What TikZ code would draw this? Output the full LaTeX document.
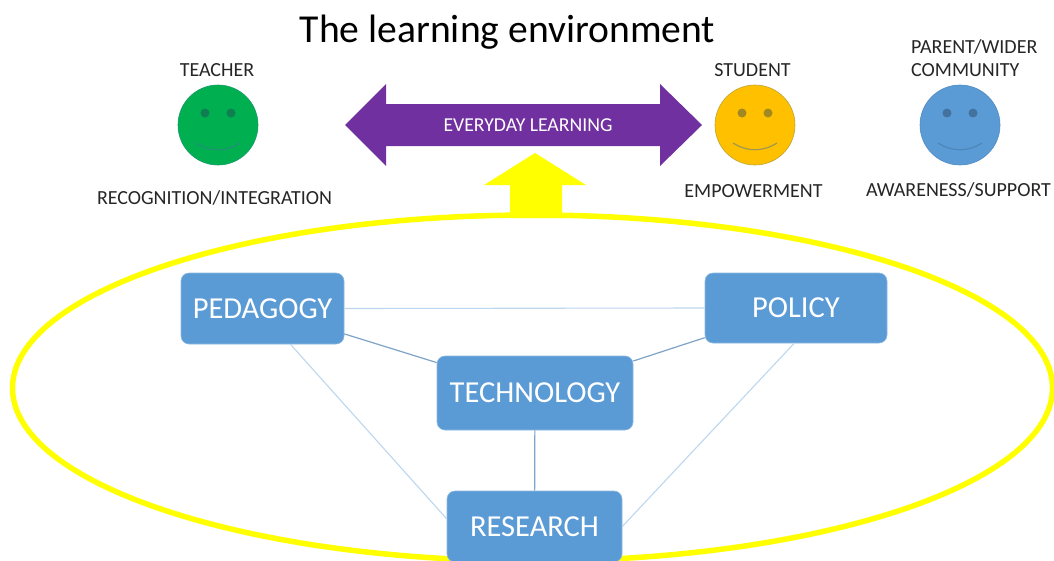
\documentclass[tikz,border=0pt]{standalone}
\usepackage{fontspec}
\setmainfont{Carlito}
\definecolor{boxblue}{HTML}{5B9BD5}
\definecolor{lightlink}{HTML}{BDD7EE}
\definecolor{midlink}{HTML}{7FA3C7}
\definecolor{smgreen}{HTML}{00B050}
\definecolor{smgold}{HTML}{FFC000}
\definecolor{evpurple}{HTML}{7030A0}
\definecolor{ringyellow}{HTML}{FFFF00}
\definecolor{labelink}{HTML}{262626}
\definecolor{smoutline}{HTML}{41719C}
\tikzset{
  x=1pt,y=-1pt,
  topic/.style={fill=boxblue,draw=boxblue!70!white,line width=.6pt,rounded corners=8pt,text=white,font=\fontsize{30.5}{30.5}\selectfont,inner sep=0pt,anchor=center},
  cap label/.style={text=labelink,font=\fontsize{20}{23}\selectfont,inner sep=0pt},
  light link/.style={lightlink,line width=1.1pt},
  mid link/.style={midlink,line width=1.2pt},
  pics/smiley/.style={code={
    \node[circle,minimum size=80pt,inner sep=0pt,fill=#1,draw=#1!65!smoutline,line width=.6pt] (-face) at (0,0) {};
    \fill[#1!72!smoutline!80!black] (-13,-12) circle[radius=4.5];
    \fill[#1!72!smoutline!80!black] (13,-12) circle[radius=4.5];
    \draw[#1!50!smoutline,line width=1.2pt] (-22,18) .. controls (-8,27) and (8,27) .. (22,18);
  }},
}
\begin{document}
\begin{tikzpicture}
\useasboundingbox (0,0) rectangle (1054,560);
\clip (0,0) rectangle (1054,560);
\fill[white] (0,0) rectangle (1054,560);
\node[font=\fontsize{39.6}{39.6}\selectfont,text=black,inner sep=0pt] (title) at (507.5,32) {The learning environment};
% yellow arrow and ring
\fill[ringyellow] (535,153) -- (586,185) -- (562,185) -- (562,218) -- (510,218) -- (510,185) -- (484,185) -- cycle;
\draw[ringyellow,line width=5.5pt] (532.5,388) ellipse[x radius=520,y radius=173];
% purple arrow
\fill[evpurple] (345,125) -- (386,84) -- (386,104) -- (660,104) -- (660,84) -- (702,125) -- (660,166) -- (660,146) -- (386,146) -- (386,166) -- cycle;
\node[text=white,font=\fontsize{19.7}{19.7}\selectfont,inner sep=0pt] (everyday) at (528,125) {EVERYDAY LEARNING};
% smileys
\pic (teacher) at (218,125) {smiley=smgreen};
\pic (student) at (755,125) {smiley=smgold};
\pic (parent) at (960,125) {smiley=boxblue};
\node[cap label] (teacherlab) at (217,70) {TEACHER};
\node[cap label] (recog) at (214.5,198) {RECOGNITION/INTEGRATION};
\node[cap label] (studentlab) at (752.5,70) {STUDENT};
\node[cap label] (empower) at (753.5,191) {EMPOWERMENT};
\node[cap label,align=left,anchor=west] (parentlab) at (911,58) {PARENT/WIDER\\COMMUNITY};
\node[cap label] (aware) at (958.5,190) {AWARENESS/SUPPORT};
% topic boxes
\node[topic,minimum width=163pt,minimum height=71pt] (ped) at (262.5,308.5) {PEDAGOGY};
\node[topic,minimum width=182pt,minimum height=70pt] (pol) at (796,308) {POLICY};
\node[topic,minimum width=196pt,minimum height=74pt] (tech) at (535,393) {TECHNOLOGY};
\node[topic,minimum width=175pt,minimum height=71pt] (res) at (534.5,526.5) {RESEARCH};
% links
\draw[light link] (ped.east) -- (pol.west);
\draw[mid link] (ped) -- (tech);
\draw[mid link] (pol) -- (tech);
\draw[mid link] (tech) -- (res);
\draw[light link] (ped.-52) -- (res.175);
\draw[light link] (pol.-93) -- (res.0);
\end{tikzpicture}
\end{document}
